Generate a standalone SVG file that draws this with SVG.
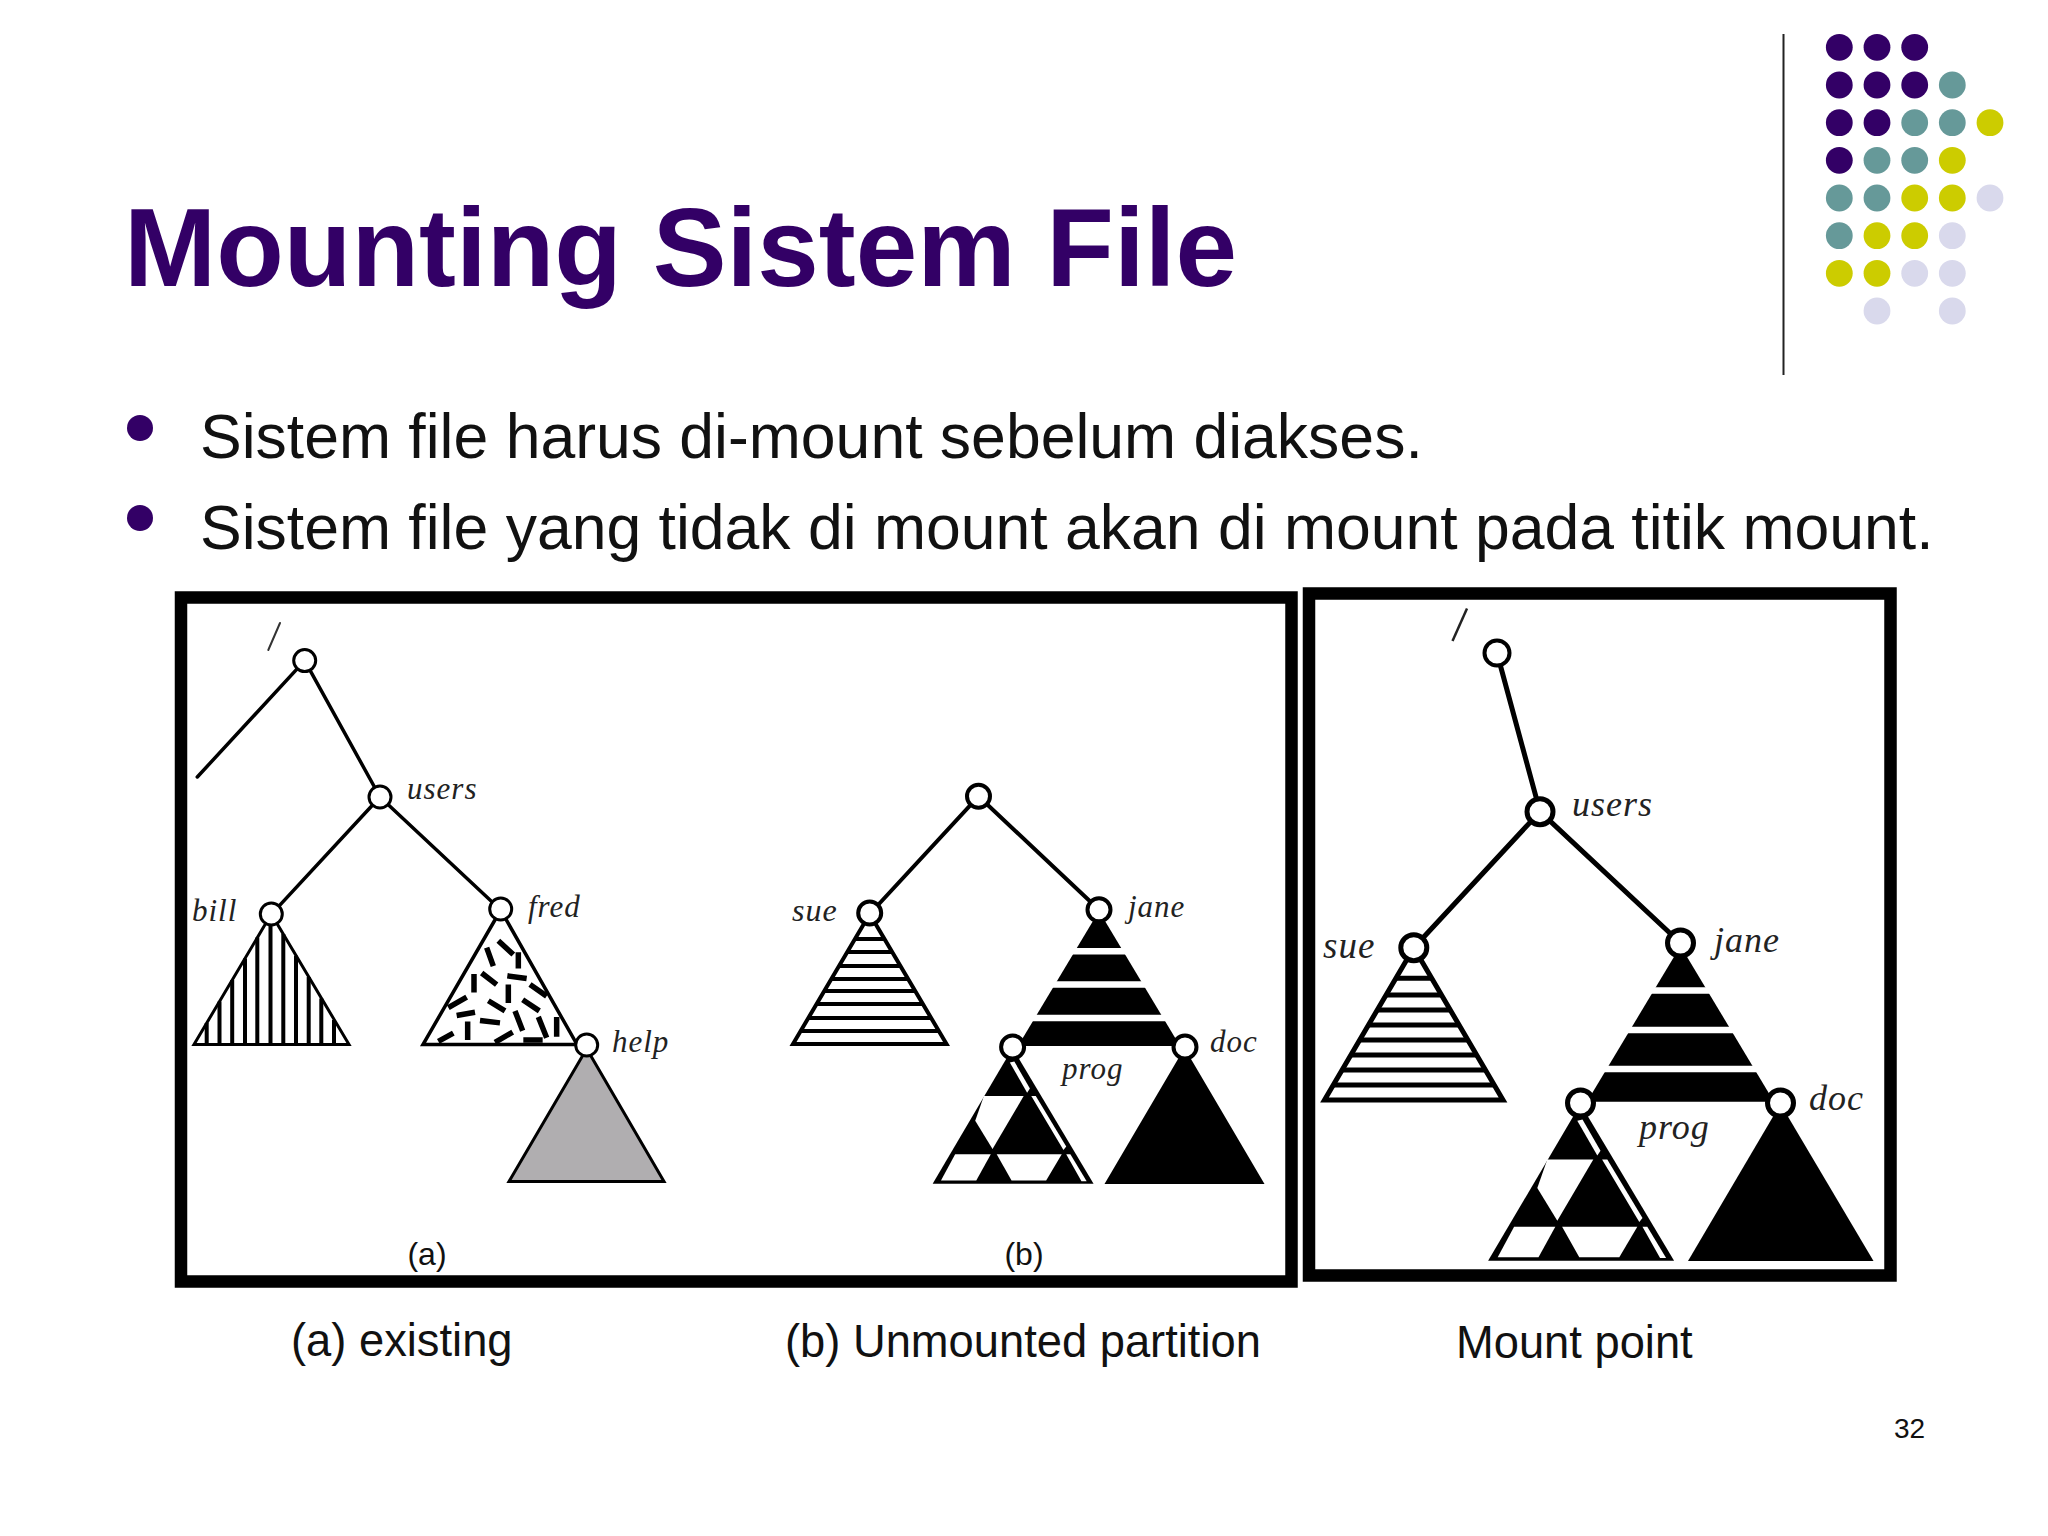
<svg xmlns="http://www.w3.org/2000/svg" width="2048" height="1536" viewBox="0 0 2048 1536">
<style>
.p{fill:#330066}.t{fill:#669999}.y{fill:#cccc00}.l{fill:#d9d9ec}
.sans{font-family:"Liberation Sans",Arial,sans-serif;fill:#111}
.it{font-family:"Liberation Serif","Times New Roman",serif;font-style:italic;fill:#222;letter-spacing:1px}
.frame{fill:none;stroke:#000;stroke-width:12.5}
.n{fill:#fff;stroke:#000}
.c{fill:none;stroke:#000;stroke-linecap:round}
.k{fill:#000}.w{fill:#fff}
.tri{stroke:#000;stroke-miterlimit:10}
</style>
<defs>
<g id="progfill">
<polygon class="k" points="733,833 502,1225 967,1225"/>
<g class="w">
<polygon points="725,875 738,872 783,950 775,962"/>
<polygon points="787,972 800,972 888,1118 880,1128"/>
<polygon points="888,1140 900,1140 947,1218 932,1218"/>
<polygon points="650,972 765,972 675,1125 625,1043"/>
<polygon points="567,1140 670,1140 628,1216 526,1216"/>
<polygon points="687,1140 875,1140 830,1216 730,1216"/>
</g>
</g>
</defs>
<rect width="2048" height="1536" fill="#fff"/>
<g id="decor">
<line x1="1783.5" y1="34" x2="1783.5" y2="375" stroke="#222" stroke-width="2"/>
<g class="p"><circle cx="1839.3" cy="47.3" r="13.4"/><circle cx="1877" cy="47.3" r="13.4"/><circle cx="1914.7" cy="47.3" r="13.4"/><circle cx="1839.3" cy="85" r="13.4"/><circle cx="1877" cy="85" r="13.4"/><circle cx="1914.7" cy="85" r="13.4"/><circle cx="1839.3" cy="122.7" r="13.4"/><circle cx="1877" cy="122.7" r="13.4"/><circle cx="1839.3" cy="160.3" r="13.4"/></g>
<g class="t"><circle cx="1952.3" cy="85" r="13.4"/><circle cx="1914.7" cy="122.7" r="13.4"/><circle cx="1952.3" cy="122.7" r="13.4"/><circle cx="1877" cy="160.3" r="13.4"/><circle cx="1914.7" cy="160.3" r="13.4"/><circle cx="1839.3" cy="198" r="13.4"/><circle cx="1877" cy="198" r="13.4"/><circle cx="1839.3" cy="235.7" r="13.4"/></g>
<g class="y"><circle cx="1990" cy="122.7" r="13.4"/><circle cx="1952.3" cy="160.3" r="13.4"/><circle cx="1914.7" cy="198" r="13.4"/><circle cx="1952.3" cy="198" r="13.4"/><circle cx="1877" cy="235.7" r="13.4"/><circle cx="1914.7" cy="235.7" r="13.4"/><circle cx="1839.3" cy="273.3" r="13.4"/><circle cx="1877" cy="273.3" r="13.4"/></g>
<g class="l"><circle cx="1990" cy="198" r="13.4"/><circle cx="1952.3" cy="235.7" r="13.4"/><circle cx="1914.7" cy="273.3" r="13.4"/><circle cx="1952.3" cy="273.3" r="13.4"/><circle cx="1877" cy="311" r="13.4"/><circle cx="1952.3" cy="311" r="13.4"/></g>
</g>
<text id="title" x="124" y="286" font-family="Liberation Sans,Arial,sans-serif" font-weight="700" font-size="110.7" class="p">Mounting Sistem File</text>
<g id="bullets">
<circle class="p" cx="140" cy="428" r="13"/><circle class="p" cx="140" cy="518" r="13"/>
<text class="sans" x="200" y="458" font-size="62.5">Sistem file harus di-mount sebelum diakses.</text>
<text class="sans" x="200" y="549" font-size="62.5">Sistem file yang tidak di mount akan di mount pada titik mount.</text>
</g>
<rect class="frame" x="181" y="597.5" width="1110.5" height="684"/>
<rect class="frame" x="1309" y="593.5" width="581.5" height="682"/>

<g id="connectors">
<g class="c" stroke-width="3.5">
<path d="M304.7 660.6L197.3 777M304.7 660.6L380 797M380 797L271.3 914.4M380 797L500.7 910"/>
<path d="M268.3 650L280 623" stroke="#333" stroke-width="2"/>
</g>
<g class="c" stroke-width="4"><path d="M978.5 796.3L869.7 914M978.5 796.3L1099 909.8"/></g>
<g class="c" stroke-width="5"><path d="M1497 653L1540 811.7M1540 811.7L1413.8 947.7M1540 811.7L1680.5 943"/></g>
</g>

<g id="tree-a">
<g id="bill-tri"><polygon class="tri" fill="#fff" stroke-width="3" points="271.3,914 194,1044.5 349,1044.5"/>
<path stroke="#000" stroke-width="4" d="M206.7 1023V1044M219.5 1001.4V1044M232.2 980V1044M245 958.4V1044M257.3 937.6V1044M270.5 916V1044M283.3 934V1044M296 955.7V1044M308.7 977V1044M321.3 998.4V1044M334 1020V1044"/></g>
<g id="fred-tri"><polygon class="tri" fill="#fff" stroke-width="3.5" points="500.7,910 423,1044.5 577,1044.5"/>
<g transform="translate(170 590) scale(.33333 .4615)" fill="none" stroke="#000" stroke-width="5.5"><path vector-effect="non-scaling-stroke" d="M985 760L1030 790M950 775L970 815M1045 785V820M935 830L980 855M1012 836L1070 842M912 832V872M1015 855V895M1080 855L1130 880M835 905L890 882M955 890L1005 912M1058 888L1108 912M860 922L915 915M1035 912L1058 955M1105 925L1130 970M1160 925V968M930 933L990 938M893 935V975M805 978L850 960M975 980L1028 958M1060 975H1118"/></g></g>
<polygon id="help-tri" class="tri" fill="#b0aeb0" stroke-width="3" points="586.7,1048.7 509,1181.5 664,1181.5"/>
<g id="node-root-a"><circle class="n" stroke-width="3" cx="304.7" cy="660.6" r="11"/></g>
<g id="node-users-a"><circle class="n" stroke-width="3" cx="380" cy="797" r="11"/><text class="it" x="407" y="799" font-size="31">users</text></g>
<g id="node-bill"><circle class="n" stroke-width="3" cx="271.3" cy="914" r="11"/><text class="it" x="192" y="921" font-size="31">bill</text></g>
<g id="node-fred"><circle class="n" stroke-width="3" cx="500.7" cy="909" r="11"/><text class="it" x="528" y="917" font-size="31">fred</text></g>
<g id="node-help"><circle class="n" stroke-width="3" cx="586.7" cy="1045" r="11"/><text class="it" x="612" y="1052" font-size="31">help</text></g>
<text class="sans" x="427" y="1265" font-size="32" text-anchor="middle">(a)</text>
</g>

<g id="tree-b">
<g id="sue-tri-b"><polygon class="tri" fill="#fff" stroke-width="4" points="869.7,914 793,1044 946.5,1044"/>
<path stroke="#000" stroke-width="4" d="M855 939H884.4M847.4 952H892M839 966H900.3M831.5 979H907.9M824.4 991H915M816.7 1004H922.7M808.7 1018H930.7M801 1031H938.5"/></g>
<g id="jane-tri-b"><polygon class="k" points="1099,911 1018,1046 1180,1046"/>
<path stroke="#fff" stroke-width="6.5" d="M1059 951.2H1139M1039 984.6H1159M1019 1018H1179"/></g>
<use href="#progfill" transform="translate(1012.6 1048) scale(.346) translate(-733 -833)"/>
<polygon id="doc-tri-b" class="k" points="1184.5,1048 1104.5,1184 1264.5,1184"/>
<g id="node-root-b"><circle class="n" stroke-width="4" cx="978.5" cy="796.3" r="11.5"/></g>
<g id="node-sue-b"><circle class="n" stroke-width="4" cx="869.7" cy="913" r="11.5"/><text class="it" x="792" y="921" font-size="32">sue</text></g>
<g id="node-jane-b"><circle class="n" stroke-width="4" cx="1099" cy="909.8" r="11.5"/><text class="it" x="1128" y="917" font-size="31">jane</text></g>
<g id="node-prog-b"><circle class="n" stroke-width="4" cx="1012.6" cy="1047" r="11.5"/><text class="it" x="1062" y="1079" font-size="31">prog</text></g>
<g id="node-doc-b"><circle class="n" stroke-width="4" cx="1185" cy="1047" r="11.5"/><text class="it" x="1210" y="1052" font-size="31">doc</text></g>
<text class="sans" x="1024" y="1265" font-size="32" text-anchor="middle">(b)</text>
</g>

<g id="tree-c">
<g id="sue-tri-c"><polygon class="tri" fill="#fff" stroke-width="5" points="1413.8,947.7 1324.5,1100 1503,1100"/>
<path stroke="#000" stroke-width="5" d="M1396 978.3H1431.6M1386.3 995H1441.3M1377.5 1010H1450.1M1368.8 1025H1458.8M1360.1 1040H1467.5M1351.3 1055H1476.3M1342.6 1070H1485M1333.8 1085H1493.8"/></g>
<g id="jane-tri-c"><polygon class="k" points="1680.5,946 1587,1101.7 1774,1101.7"/>
<path stroke="#fff" stroke-width="6.5" d="M1628 990.6H1734M1608 1030.1H1754M1588 1069.1H1774"/></g>
<use href="#progfill" transform="translate(1580.5 1104) scale(.4) translate(-733 -833)"/>
<polygon id="doc-tri-c" class="k" points="1780.5,1104 1688,1261 1873.5,1261"/>
<g id="node-root-c"><circle class="n" stroke-width="4" cx="1497" cy="653" r="12.5"/></g>
<path d="M1452.5 641L1467 608.6" stroke="#222" stroke-width="2.5"/>
<g id="node-users-c"><circle class="n" stroke-width="5" cx="1540" cy="811.7" r="13"/><text class="it" x="1572" y="816" font-size="36">users</text></g>
<g id="node-sue-c"><circle class="n" stroke-width="5" cx="1413.8" cy="947.7" r="13"/><text class="it" x="1323" y="958" font-size="37">sue</text></g>
<g id="node-jane-c"><circle class="n" stroke-width="5" cx="1680.5" cy="943" r="13"/><text class="it" x="1714" y="952" font-size="36">jane</text></g>
<g id="node-prog-c"><circle class="n" stroke-width="5" cx="1580.5" cy="1103" r="13"/><text class="it" x="1639" y="1139" font-size="36">prog</text></g>
<g id="node-doc-c"><circle class="n" stroke-width="5" cx="1780.5" cy="1103" r="13"/><text class="it" x="1809" y="1110" font-size="36">doc</text></g>
</g>

<g id="captions">
<text class="sans" x="291" y="1356" font-size="45.3">(a) existing</text>
<text class="sans" x="785" y="1357" font-size="45.3">(b) Unmounted partition</text>
<text class="sans" x="1456" y="1358" font-size="45.3">Mount point</text>
<text class="sans" x="1894" y="1438" font-size="28">32</text>
</g>
</svg>
